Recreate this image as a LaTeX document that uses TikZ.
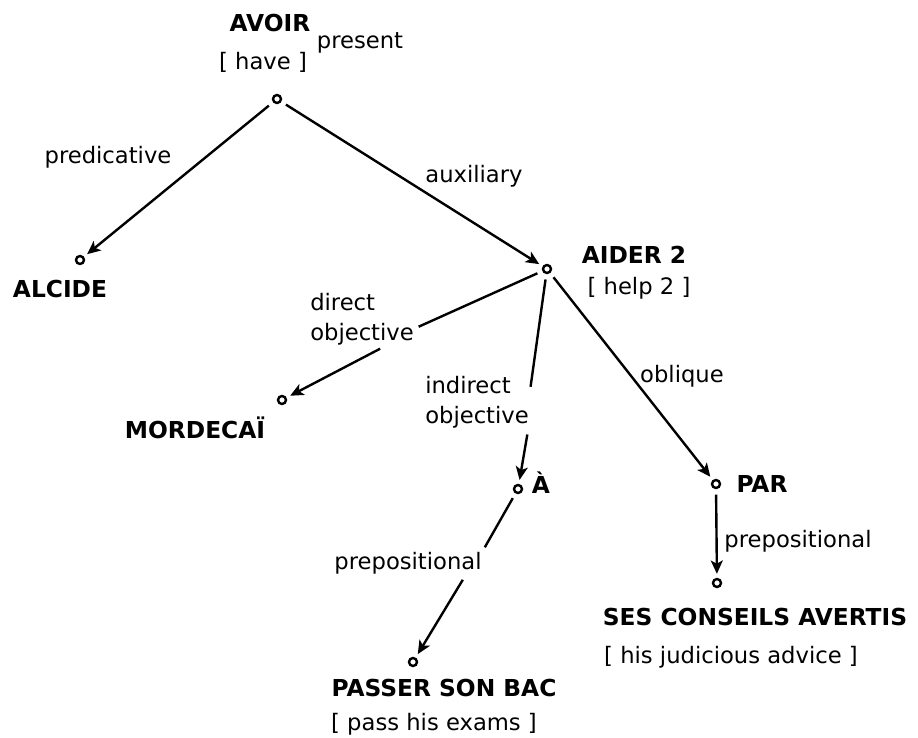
\documentclass[tikz,border=0pt]{standalone}
\usepackage{fontspec}
\setmainfont{DejaVu Sans}
\usetikzlibrary{arrows.meta}

\tikzset{
  vertex/.style={circle, draw, line width=1.8pt, inner sep=0pt, minimum size=6pt},
  head/.style={font=\fontsize{17.5}{21}\selectfont\bfseries, inner sep=0.75pt},
  gloss/.style={font=\fontsize{17}{20}\selectfont, inner sep=0.75pt},
  rel/.style={font=\fontsize{17}{22.5}\selectfont, inner sep=0.75pt, align=left},
  edge/.style={line width=1.8pt, shorten <=4pt, shorten >=3pt},
  arc/.style={edge, -{Stealth[length=10pt,width=9pt,inset=2.5pt]}},
}

\begin{document}
\begin{tikzpicture}[x=0.75pt,y=0.75pt,yscale=-1,xscale=1]
\useasboundingbox (0,0) rectangle (918,738);

%Vertices
\node[vertex] (cAvoir) at (277,99) {};
\node[vertex] (cAlcide) at (80,260) {};
\node[vertex] (cAider) at (547,269) {};
\node[vertex] (cMord) at (282,400) {};
\node[vertex] (cA) at (518,489) {};
\node[vertex] (cPar) at (716,484) {};
\node[vertex] (cSes) at (717,583) {};
\node[vertex] (cPasser) at (413,662) {};

% Words
\node[head] (tAvoir) at (270,23) {AVOIR};
\node[gloss] (gAvoir) at (263,62) {[ have ]};
\node[head] (tAlcide) at (60,289) {ALCIDE};
\node[head] (tAider) at (634,255) {AIDER 2};
\node[gloss] (gAider) at (639,288) {[ help 2 ]};
\node[head] (tMord) at (195,428) {MORDECAÏ};
\node[head] (tA) at (541,483) {À};
\node[head] (tPar) at (762,484) {PAR};
\node[head] (tSes) at (755,617) {SES CONSEILS AVERTIS};
\node[gloss] (gSes) at (731,657) {[ his judicious advice ]};
\node[head] (tPasser) at (444,688) {PASSER SON BAC};
\node[gloss] (gPasser) at (434,724) {[ pass his exams ]};

% Relations
\node[gloss] (present) at (360,43) {present};
\node[gloss] (predic) at (108,157) {predicative};
\node[gloss] (aux) at (474,176) {auxiliary};
\node[rel] (dobj) at (362,319) {direct\\objective};
\node[rel] (iobj) at (477,402) {indirect\\objective};
\node[gloss] (obl) at (682,376) {oblique};
\node[gloss] (prepA) at (408,563) {prepositional};
\node[gloss] (prepPar) at (798,541) {prepositional};

% Links
\draw[arc] (cAvoir) -- (cAlcide);
\draw[arc] (cAvoir) -- (cAider);
\draw[edge] (cAider) -- (dobj.-10);
\draw[arc] (dobj.-50) -- (cMord);
\draw[edge] (cAider) -- (iobj.12);
\draw[arc] (iobj.-28) -- (cA);
\draw[arc] (cAider) -- (cPar);
\draw[edge] (cA) -- (prepA.north east);
\draw[arc] (prepA.-12) -- (cPasser);
\draw[arc] (cPar) -- (cSes);

\end{tikzpicture}
\end{document}
